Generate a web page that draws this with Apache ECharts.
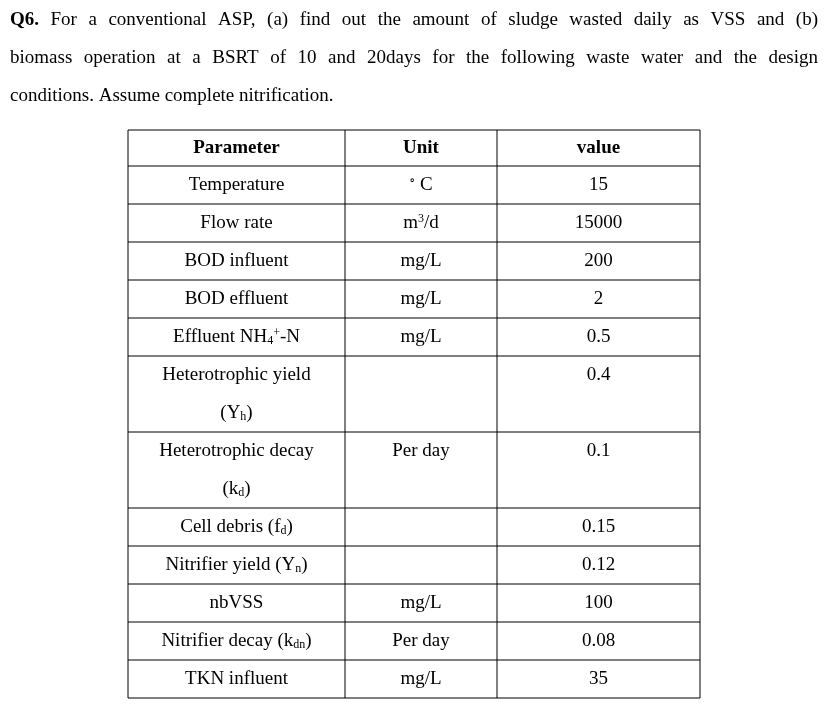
<!DOCTYPE html>
<html><head><meta charset="utf-8">
<script src="https://cdn.jsdelivr.net/npm/echarts@6/dist/echarts.min.js"></script>
<style>html,body{margin:0;padding:0;background:#fff}#c{width:824px;height:711px}</style>
</head><body><div id="c"></div>
<script>
const introLines = [
  "{b|Q6.} For a conventional ASP, (a) find out the amount of sludge wasted daily as VSS and (b)",
  "biomass operation at a BSRT of 10 and 20days for the following waste water and the design",
  "conditions. Assume complete nitrification."
];
const headers = ["Parameter", "Unit", "value"];
const parameters = [
  ["Temperature"], ["Flow rate"], ["BOD influent"], ["BOD effluent"],
  ["Effluent NH{s|4}{p|+}-N"], ["Heterotrophic yield", "(Y{s|h})"],
  ["Heterotrophic decay", "(k{s|d})"], ["Cell debris (f{s|d})"],
  ["Nitrifier yield (Y{s|n})"], ["nbVSS"], ["Nitrifier decay (k{s|dn})"], ["TKN influent"]
];
const units = ["{p|∘} C", "m{p|3}/d", "mg/L", "mg/L", "mg/L", "", "Per day", "", "", "mg/L", "Per day", "mg/L"];
const values = ["15", "15000", "200", "2", "0.5", "0.4", "0.1", "0.15", "0.12", "100", "0.08", "35"];

const colX = [128, 345, 497, 700];
const top0 = 130, rowH = 38, lineH = 38;
const font = '"Liberation Serif","DejaVu Serif",serif';
const rich = {
  b: {fontWeight: 'bold', fontFamily: font, fontSize: 19, fill: '#000'},
  s: {fontSize: 12, fontFamily: font, verticalAlign: 'bottom', padding: [8,0,0,0]},
  p: {fontSize: 12, fontFamily: font, verticalAlign: 'top', padding: [0,0,8,0]}
};
const g = [];
function txt(x, y, t, align, bold) {
  g.push({type: 'text', x, y, style: {text: t, x: 0, y: 0, align: align || 'center', verticalAlign: 'middle',
    font: (bold ? 'bold ' : '') + '19px ' + font, fill: '#000', rich}});
}
// justified intro (first two lines), last line left-aligned
const ctx = document.createElement('canvas').getContext('2d');
function measure(w) {
  const bold = w.startsWith('{b|');
  const plain = w.replace(/\{\w\|([^}]*)\}/g, '$1');
  ctx.font = (bold ? 'bold ' : '') + '19px "Liberation Serif"';
  return ctx.measureText(plain).width;
}
const left = 10, right = 818;
introLines.forEach((l, i) => {
  const yy = 20 + i * 38;
  if (i === introLines.length - 1) { txt(left, yy, l, 'left'); return; }
  const words = l.split(' ');
  const widths = words.map(measure);
  const total = widths.reduce((a, b) => a + b, 0);
  const gap = (right - left - total) / (words.length - 1);
  let x = left;
  words.forEach((w, k) => { txt(x, yy, w, 'left'); x += widths[k] + gap; });
});
let y = top0;
const hLines = [y];
txt((colX[0]+colX[1])/2, y + 18, headers[0], 'center', true);
txt((colX[1]+colX[2])/2, y + 18, headers[1], 'center', true);
txt((colX[2]+colX[3])/2, y + 18, headers[2], 'center', true);
y += rowH - 2; hLines.push(y);
parameters.forEach((p, i) => {
  const h = p.length * lineH;
  p.forEach((t, k) => txt((colX[0]+colX[1])/2, y + 19 + k * lineH, t));
  txt((colX[1]+colX[2])/2, y + 19, units[i]);
  txt((colX[2]+colX[3])/2, y + 19, values[i]);
  y += h; hLines.push(y);
});
hLines.forEach(hy => g.push({type: 'line', shape: {x1: colX[0], y1: hy, x2: colX[3], y2: hy}, style: {stroke: '#000', lineWidth: 1}}));
colX.forEach(cx => g.push({type: 'line', shape: {x1: cx, y1: hLines[0], x2: cx, y2: hLines[hLines.length-1]}, style: {stroke: '#000', lineWidth: 1}}));
const chart = echarts.init(document.getElementById('c'));
chart.setOption({backgroundColor: '#fff', graphic: g});
</script></body></html>
